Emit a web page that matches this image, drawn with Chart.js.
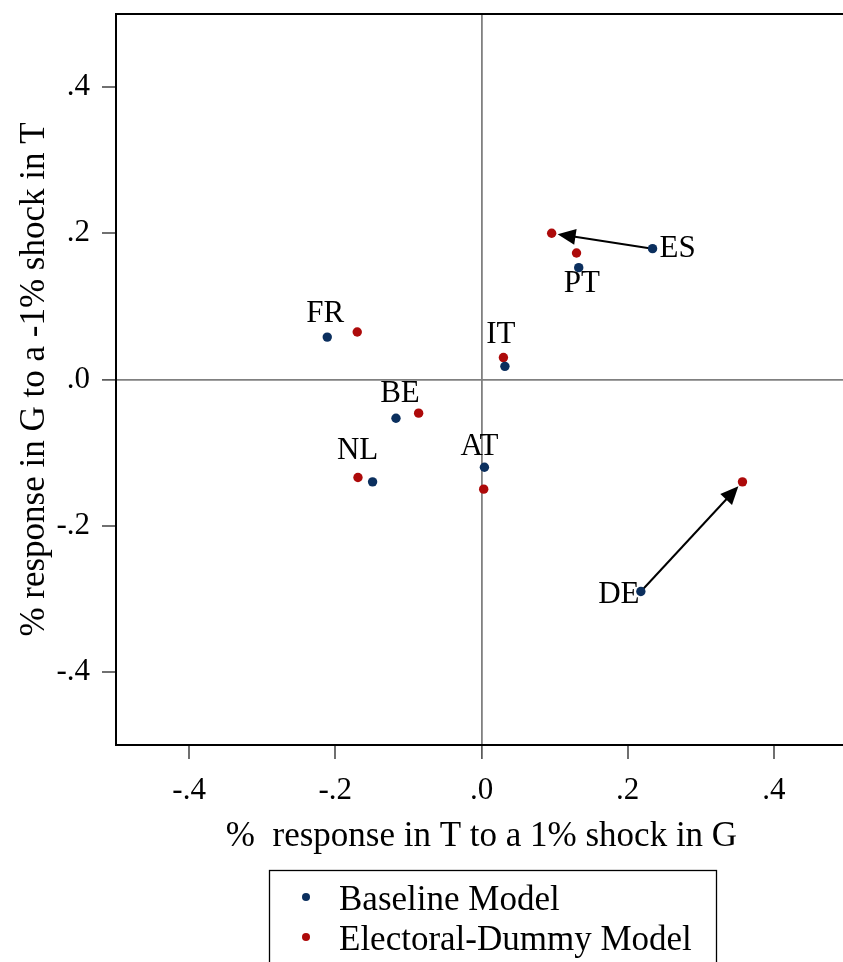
<!DOCTYPE html>
<html>
<head>
<meta charset="utf-8">
<script src="https://cdn.jsdelivr.net/npm/chart.js@4.4.1/dist/chart.umd.min.js"></script>
<style>
  html, body { margin: 0; padding: 0; background: #fff; overflow: hidden; }
  #wrap { position: relative; width: 860px; height: 962px; }
</style>
</head>
<body>
<div id="wrap"><canvas id="chart"></canvas></div>
<script>
// data
const countries  = ['FR', 'BE', 'NL', 'AT', 'IT', 'PT', 'ES', 'DE'];
const baselineX  = [-0.211, -0.117, -0.149, 0.004, 0.032, 0.133, 0.234, 0.218];
const baselineY  = [0.058, -0.053, -0.140, -0.120, 0.018, 0.153, 0.179, -0.290];
const electoralX = [-0.170, -0.086, -0.169, 0.003, 0.030, 0.130, 0.096, 0.357];
const electoralY = [0.065, -0.046, -0.134, -0.150, 0.030, 0.173, 0.200, -0.140];
const seriesNames = ['Baseline Model', 'Electoral-Dummy Model'];
const tickValues = [-0.4, -0.2, 0, 0.2, 0.4];
const tickLabels = ['-.4', '-.2', '.0', '.2', '.4'];
const arrowCountries = ['ES', 'DE'];
const xTitle = '%  response in T to a 1% shock in G';
const yTitle = '% response in G to a -1% shock in T';

const FONT = "'Liberation Serif', 'DejaVu Serif', serif";
const NAVY = '#0b2f5e';
const RED = '#ad0a0a';

// where each country label sits relative to its baseline dot (px)
const labelOffset = {
  FR: [-2, -25], BE: [4, -26], NL: [-15, -33], AT: [-5, -22],
  IT: [-4, -33], PT: [3, 14], ES: [25, -2], DE: [-22, 2]
};

const toPoints = (xs, ys) => xs.map((v, i) => ({ x: v, y: ys[i] }));

const setTicks = scale => { scale.ticks = tickValues.map(v => ({ value: v })); };
const tickText = v => tickLabels[tickValues.indexOf(Math.round(v * 10) / 10)] ?? '';

const decorations = {
  id: 'decorations',
  beforeDatasetsDraw(chart) {
    const { ctx, scales: { x, y } } = chart;
    ctx.save();
    ctx.strokeStyle = '#000';
    ctx.fillStyle = '#000';
    arrowCountries.forEach(c => {
      const i = countries.indexOf(c);
      const x0 = x.getPixelForValue(baselineX[i]), y0 = y.getPixelForValue(baselineY[i]);
      const x1 = x.getPixelForValue(electoralX[i]), y1 = y.getPixelForValue(electoralY[i]);
      const ang = Math.atan2(y1 - y0, x1 - x0);
      const cos = Math.cos(ang), sin = Math.sin(ang);
      const tipX = x1 - 6 * cos, tipY = y1 - 6 * sin;
      const head = 18, half = 8;
      const bx = tipX - head * cos, by = tipY - head * sin;
      ctx.lineWidth = 2;
      ctx.beginPath();
      ctx.moveTo(x0, y0);
      ctx.lineTo(bx + 2 * cos, by + 2 * sin);
      ctx.stroke();
      ctx.beginPath();
      ctx.moveTo(tipX, tipY);
      ctx.lineTo(bx - half * sin, by + half * cos);
      ctx.lineTo(bx + half * sin, by - half * cos);
      ctx.closePath();
      ctx.fill();
    });
    ctx.restore();
  },
  afterDatasetsDraw(chart) {
    const { ctx, chartArea: a, scales: { x, y } } = chart;
    ctx.save();
    // frame
    ctx.strokeStyle = '#000';
    ctx.lineWidth = 2;
    ctx.strokeRect(a.left, a.top, a.right - a.left, a.bottom - a.top);

    // country labels
    ctx.fillStyle = '#000';
    ctx.font = '31px ' + FONT;
    ctx.textAlign = 'center';
    ctx.textBaseline = 'alphabetic';
    countries.forEach((c, i) => {
      const px = x.getPixelForValue(baselineX[i]), py = y.getPixelForValue(baselineY[i]);
      const [dx, dy] = labelOffset[c];
      ctx.fillText(c, px + dx, py + dy + 10);
    });

    // legend box
    ctx.lineWidth = 1.3;
    ctx.strokeRect(269.5, 870.5, 447, 120);
    ctx.font = '35px ' + FONT;
    ctx.textAlign = 'left';
    chart.data.datasets.forEach((ds, k) => {
      const cy = 897 + k * 40;
      ctx.fillStyle = ds.backgroundColor;
      ctx.beginPath();
      ctx.arc(306, cy, 4, 0, Math.PI * 2);
      ctx.fill();
      ctx.fillStyle = '#000';
      ctx.fillText(ds.label, 339, cy + 13);
    });
    ctx.restore();
  }
};

const zeroGrid = {
  color: c => (c.tick && c.tick.value === 0 ? '#808080' : 'rgba(0,0,0,0)'),
  lineWidth: c => (c.tick && c.tick.value === 0 ? 1.8 : 0),
  tickColor: '#333',
  tickWidth: 1.4,
  tickLength: 14
};

new Chart(document.getElementById('chart'), {
  type: 'scatter',
  data: {
    datasets: [
      {
        label: seriesNames[0],
        data: toPoints(baselineX, baselineY),
        backgroundColor: NAVY,
        borderWidth: 0,
        pointRadius: 4.7
      },
      {
        label: seriesNames[1],
        data: toPoints(electoralX, electoralY),
        backgroundColor: RED,
        borderWidth: 0,
        pointRadius: 4.7
      }
    ]
  },
  options: {
    responsive: true,
    maintainAspectRatio: false,
    animation: false,
    layout: { padding: { top: 14, right: 13, bottom: 97, left: 0 } },
    plugins: {
      legend: { display: false },
      tooltip: { enabled: false }
    },
    scales: {
      x: {
        type: 'linear',
        min: -0.5,
        max: 0.5,
        afterBuildTicks: setTicks,
        afterFit: s => { s.height = 120; s.paddingLeft = 0; s.paddingRight = 0; },
        grid: zeroGrid,
        border: { display: true, color: '#000', width: 2 },
        ticks: {
          color: '#000',
          padding: 13,
          font: { family: FONT, size: 31 },
          callback: tickText
        },
        title: {
          display: true,
          text: xTitle,
          color: '#000',
          font: { family: FONT, size: 35 },
          padding: { top: 0, bottom: 7 }
        }
      },
      y: {
        type: 'linear',
        min: -0.5,
        max: 0.5,
        afterBuildTicks: setTicks,
        afterFit: s => { s.width = 116; s.paddingTop = 0; s.paddingBottom = 0; },
        grid: zeroGrid,
        border: { display: true, color: '#000', width: 2 },
        ticks: {
          color: '#000',
          padding: 12,
          font: { family: FONT, size: 31 },
          callback: tickText
        },
        title: {
          display: true,
          text: yTitle,
          color: '#000',
          font: { family: FONT, size: 35 },
          padding: { top: 14, bottom: 0 }
        }
      }
    }
  },
  plugins: [decorations]
});
</script>
</body>
</html>
